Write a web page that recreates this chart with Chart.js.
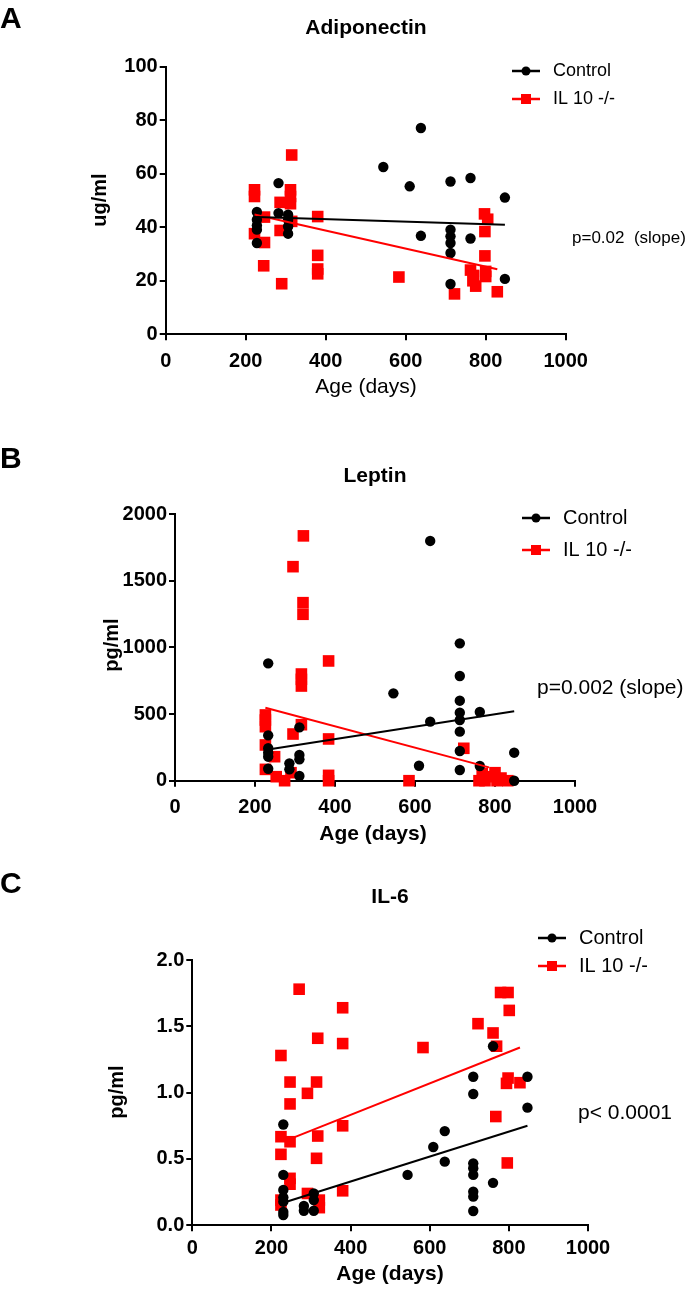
<!DOCTYPE html>
<html>
<head>
<meta charset="utf-8">
<script src="https://cdn.jsdelivr.net/npm/chart.js@4.4.1/dist/chart.umd.min.js"></script>
<style>
  html, body { margin: 0; padding: 0; background: #fff; }
  #page { position: relative; width: 692px; height: 1289px; overflow: hidden; background: #fff; }
  #page canvas { position: absolute; left: 0; }
</style>
</head>
<body>
<div id="page">
  <canvas id="chartA" width="692" height="440" style="top:0px"></canvas>
  <canvas id="chartB" width="692" height="420" style="top:440px"></canvas>
  <canvas id="chartC" width="692" height="429" style="top:860px"></canvas>
</div>
<script>
// ---- data ----
const seriesNames = ['Control', 'IL 10 -/-'];

// A: Adiponectin (ug/ml)
const adipoCtrlAge = [228, 228, 228, 228, 228, 282, 282, 306, 306, 306, 306, 544, 610, 638, 638, 712, 712, 712, 712, 712, 712, 762, 762, 848, 848];
const adipoCtrlVal = [45.7, 42.8, 40.7, 39.1, 34.1, 56.5, 45.3, 44.7, 42.8, 40.3, 37.6, 62.5, 55.3, 77.1, 36.8, 57.1, 39.1, 36.6, 34.1, 30.4, 18.8, 58.4, 35.8, 51.1, 20.7];
const adipoKoAge = [222, 222, 222, 247, 247, 245, 290, 286, 286, 312, 312, 312, 315, 315, 380, 380, 380, 380, 583, 722, 762, 770, 768, 775, 797, 805, 798, 798, 800, 800, 829];
const adipoKoVal = [54, 51.5, 37.6, 43.8, 34.3, 25.6, 18.9, 49.3, 38.8, 54, 51.5, 48.8, 67, 42.2, 44, 29.5, 24.4, 22.6, 21.4, 15.1, 24, 22, 20, 18, 45, 43, 38.4, 29.3, 23.5, 21.6, 15.9];
const adipoCtrlFit = [[228, 43.8], [848, 40.9]];
const adipoKoFit = [[222, 44.8], [829, 24.3]];

// B: Leptin (pg/ml)
const leptinCtrlAge = [233, 233, 233, 233, 233, 233, 286, 286, 311, 311, 311, 311, 546, 610, 638, 638, 712, 712, 712, 712, 712, 712, 712, 712, 762, 762, 848, 848];
const leptinCtrlVal = [880, 340, 243, 210, 180, 90, 130, 85, 400, 193, 160, 35, 655, 112, 1798, 443, 1030, 785, 600, 510, 455, 368, 223, 80, 515, 110, 210, 0];
const leptinKoAge = [321, 295, 320, 320, 384, 316, 316, 316, 226, 226, 226, 226, 226, 249, 253, 274, 295, 316, 290, 384, 384, 384, 585, 722, 768, 760, 775, 790, 800, 805, 815, 832];
const leptinKoVal = [1836, 1605, 1335, 1248, 898, 800, 760, 710, 493, 455, 405, 268, 85, 180, 30, 0, 350, 420, 60, 313, 40, 0, 0, 243, 55, 0, 0, 30, 60, 0, 20, 0];
const leptinCtrlFit = [[233, 234], [848, 520]];
const leptinKoFit = [[226, 547], [785, 100]];

// C: IL-6 (pg/ml)
const il6CtrlAge = [230, 230, 230, 230, 230, 230, 230, 282, 282, 307, 307, 307, 544, 609, 638, 638, 710, 710, 710, 710, 710, 710, 710, 710, 760, 760, 847, 847];
const il6CtrlVal = [0.76, 0.38, 0.266, 0.21, 0.178, 0.10, 0.078, 0.146, 0.11, 0.24, 0.19, 0.11, 0.38, 0.59, 0.71, 0.48, 1.12, 0.99, 0.467, 0.43, 0.38, 0.253, 0.216, 0.108, 1.35, 0.32, 1.12, 0.887];
const il6KoAge = [270, 380, 380, 317, 224, 247, 314, 291, 247, 380, 224, 247, 317, 224, 314, 247, 247, 291, 380, 224, 224, 321, 321, 583, 722, 760, 769, 779, 798, 801, 798, 794, 828, 767, 796];
const il6KoVal = [1.78, 1.64, 1.37, 1.41, 1.28, 1.08, 1.08, 0.995, 0.915, 0.75, 0.668, 0.63, 0.673, 0.535, 0.505, 0.354, 0.31, 0.24, 0.26, 0.19, 0.153, 0.19, 0.133, 1.34, 1.52, 1.45, 1.35, 1.755, 1.755, 1.62, 1.11, 1.07, 1.075, 0.82, 0.47];
const il6CtrlFit = [[230, 0.17], [847, 0.75]];
const il6KoFit = [[246, 0.65], [828, 1.34]];

const xTicks = { min: 0, max: 1000, step: 200 };

const FONT = '"Liberation Sans", Arial, sans-serif';
const RED = '#ff0000';
const BLACK = '#000000';

const toPts = (xs, ys) => xs.map((x, i) => ({ x, y: ys[i] }));
const toLine = pairs => pairs.map(p => ({ x: p[0], y: p[1] }));

// draws panel letter, title, axis titles, legend and p-value on the canvas
const panelText = {
  id: 'panelText',
  afterDraw(chart, args, o) {
    const ctx = chart.ctx;
    const off = o.top;
    ctx.save();
    ctx.fillStyle = '#000';
    ctx.textBaseline = 'middle';

    ctx.font = `bold 30px ${FONT}`;
    ctx.textAlign = 'left';
    ctx.fillText(o.letter, 0, o.letterY - off);

    ctx.font = `bold 21px ${FONT}`;
    ctx.textAlign = 'center';
    ctx.fillText(o.title, o.titleX, o.titleY - off);

    ctx.font = `${o.xTitleBold ? 'bold ' : ''}21px ${FONT}`;
    ctx.fillText('Age (days)', o.xTitleX, o.xTitleY - off);

    ctx.save();
    ctx.translate(o.yTitleX, o.yTitleY - off);
    ctx.rotate(-Math.PI / 2);
    ctx.font = `bold 20px ${FONT}`;
    ctx.fillText(o.yTitle, 0, 0);
    ctx.restore();

    // legend
    const lg = o.legend;
    seriesNames.forEach((name, i) => {
      const y = lg.y + i * lg.dy - off;
      const col = i === 0 ? BLACK : RED;
      ctx.strokeStyle = col;
      ctx.lineWidth = 2.5;
      ctx.beginPath();
      ctx.moveTo(lg.x, y);
      ctx.lineTo(lg.x + 28, y);
      ctx.stroke();
      ctx.fillStyle = col;
      if (i === 0) {
        ctx.beginPath();
        ctx.arc(lg.x + 14, y, 4.5, 0, Math.PI * 2);
        ctx.fill();
      } else {
        ctx.fillRect(lg.x + 9, y - 5, 10, 10);
      }
      ctx.fillStyle = '#000';
      ctx.font = `${lg.size}px ${FONT}`;
      ctx.textAlign = 'left';
      ctx.fillText(name, lg.x + 41, y);
    });

    ctx.font = `${o.pSize}px ${FONT}`;
    ctx.textAlign = 'left';
    ctx.fillText(o.pText, o.pX, o.pY - off);
    ctx.restore();
  }
};

function axisCommon(extra) {
  return Object.assign({
    type: 'linear',
    grid: { display: true, drawOnChartArea: false, drawTicks: true, tickLength: 6, color: '#000', lineWidth: 2 },
    border: { display: true, color: '#000', width: 2 },
  }, extra);
}

function makePanel(p) {
  const canvas = document.getElementById(p.id);
  const H = canvas.height;
  const Y_W = 60, X_H = 50;
  const a = p.area;
  return new Chart(canvas, {
    type: 'scatter',
    plugins: [panelText],
    data: {
      datasets: [
        { data: toLine(p.ctrlFit), showLine: true, borderColor: BLACK, borderWidth: 2, pointRadius: 0, order: 0, clip: false },
        { data: toLine(p.koFit), showLine: true, borderColor: RED, borderWidth: 2, pointRadius: 0, order: 1, clip: false },
        { label: seriesNames[0], data: toPts(p.ctrlAge, p.ctrlVal), pointStyle: 'circle', pointRadius: 5.2, backgroundColor: BLACK, borderWidth: 0, order: 2, clip: false },
        { label: seriesNames[1], data: toPts(p.koAge, p.koVal), pointStyle: 'rect', pointRadius: 8.2, backgroundColor: RED, borderWidth: 0, order: 3, clip: false },
      ],
    },
    options: {
      responsive: false,
      animation: false,
      devicePixelRatio: 1,
      layout: {
        autoPadding: false,
        padding: { left: a.l - Y_W, right: 692 - a.r, top: a.t - p.top, bottom: H - (a.b - p.top) - X_H },
      },
      plugins: {
        legend: { display: false },
        tooltip: { enabled: false },
        panelText: Object.assign({ top: p.top }, p.text),
      },
      scales: {
        x: axisCommon({
          min: xTicks.min, max: xTicks.max,
          ticks: { stepSize: xTicks.step, color: '#000', padding: p.xPad, font: { family: FONT, size: 20, weight: 'bold' },
            callback: v => String(v) },
          afterFit: s => { s.height = X_H; },
        }),
        y: axisCommon({
          min: 0, max: p.yMax,
          ticks: { stepSize: p.yStep, color: '#000', padding: 2, font: { family: FONT, size: 20, weight: 'bold' },
            callback: v => v.toFixed(p.yDec) },
          afterFit: s => { s.width = Y_W; },
        }),
      },
    },
  });
}

makePanel({
  id: 'chartA', top: 0, area: { l: 165.7, r: 565.7, t: 66.7, b: 334.3 },
  yMax: 100, yStep: 20, yDec: 0, xPad: 9,
  ctrlAge: adipoCtrlAge, ctrlVal: adipoCtrlVal, koAge: adipoKoAge, koVal: adipoKoVal,
  ctrlFit: adipoCtrlFit, koFit: adipoKoFit,
  text: { letter: 'A', letterY: 20, title: 'Adiponectin', titleX: 366, titleY: 28,
    yTitle: 'ug/ml', yTitleX: 100, yTitleY: 200, xTitleX: 366, xTitleY: 387, xTitleBold: false,
    legend: { x: 512, y: 71, dy: 28, size: 18 }, pText: 'p=0.02  (slope)', pX: 572, pY: 238, pSize: 17 },
});

makePanel({
  id: 'chartB', top: 440, area: { l: 175, r: 575, t: 514, b: 780.7 },
  yMax: 2000, yStep: 500, yDec: 0, xPad: 9,
  ctrlAge: leptinCtrlAge, ctrlVal: leptinCtrlVal, koAge: leptinKoAge, koVal: leptinKoVal,
  ctrlFit: leptinCtrlFit, koFit: leptinKoFit,
  text: { letter: 'B', letterY: 460, title: 'Leptin', titleX: 375, titleY: 476,
    yTitle: 'pg/ml', yTitleX: 112, yTitleY: 645, xTitleX: 373, xTitleY: 834, xTitleBold: true,
    legend: { x: 522, y: 518, dy: 32, size: 20 }, pText: 'p=0.002 (slope)', pX: 537, pY: 688, pSize: 21 },
});

makePanel({
  id: 'chartC', top: 860, area: { l: 192.3, r: 588, t: 960, b: 1225.3 },
  yMax: 2, yStep: 0.5, yDec: 1, xPad: 5,
  ctrlAge: il6CtrlAge, ctrlVal: il6CtrlVal, koAge: il6KoAge, koVal: il6KoVal,
  ctrlFit: il6CtrlFit, koFit: il6KoFit,
  text: { letter: 'C', letterY: 885, title: 'IL-6', titleX: 390, titleY: 897,
    yTitle: 'pg/ml', yTitleX: 117, yTitleY: 1092, xTitleX: 390, xTitleY: 1274, xTitleBold: true,
    legend: { x: 538, y: 938, dy: 28, size: 20 }, pText: 'p< 0.0001', pX: 578, pY: 1113, pSize: 21 },
});
</script>
</body>
</html>
